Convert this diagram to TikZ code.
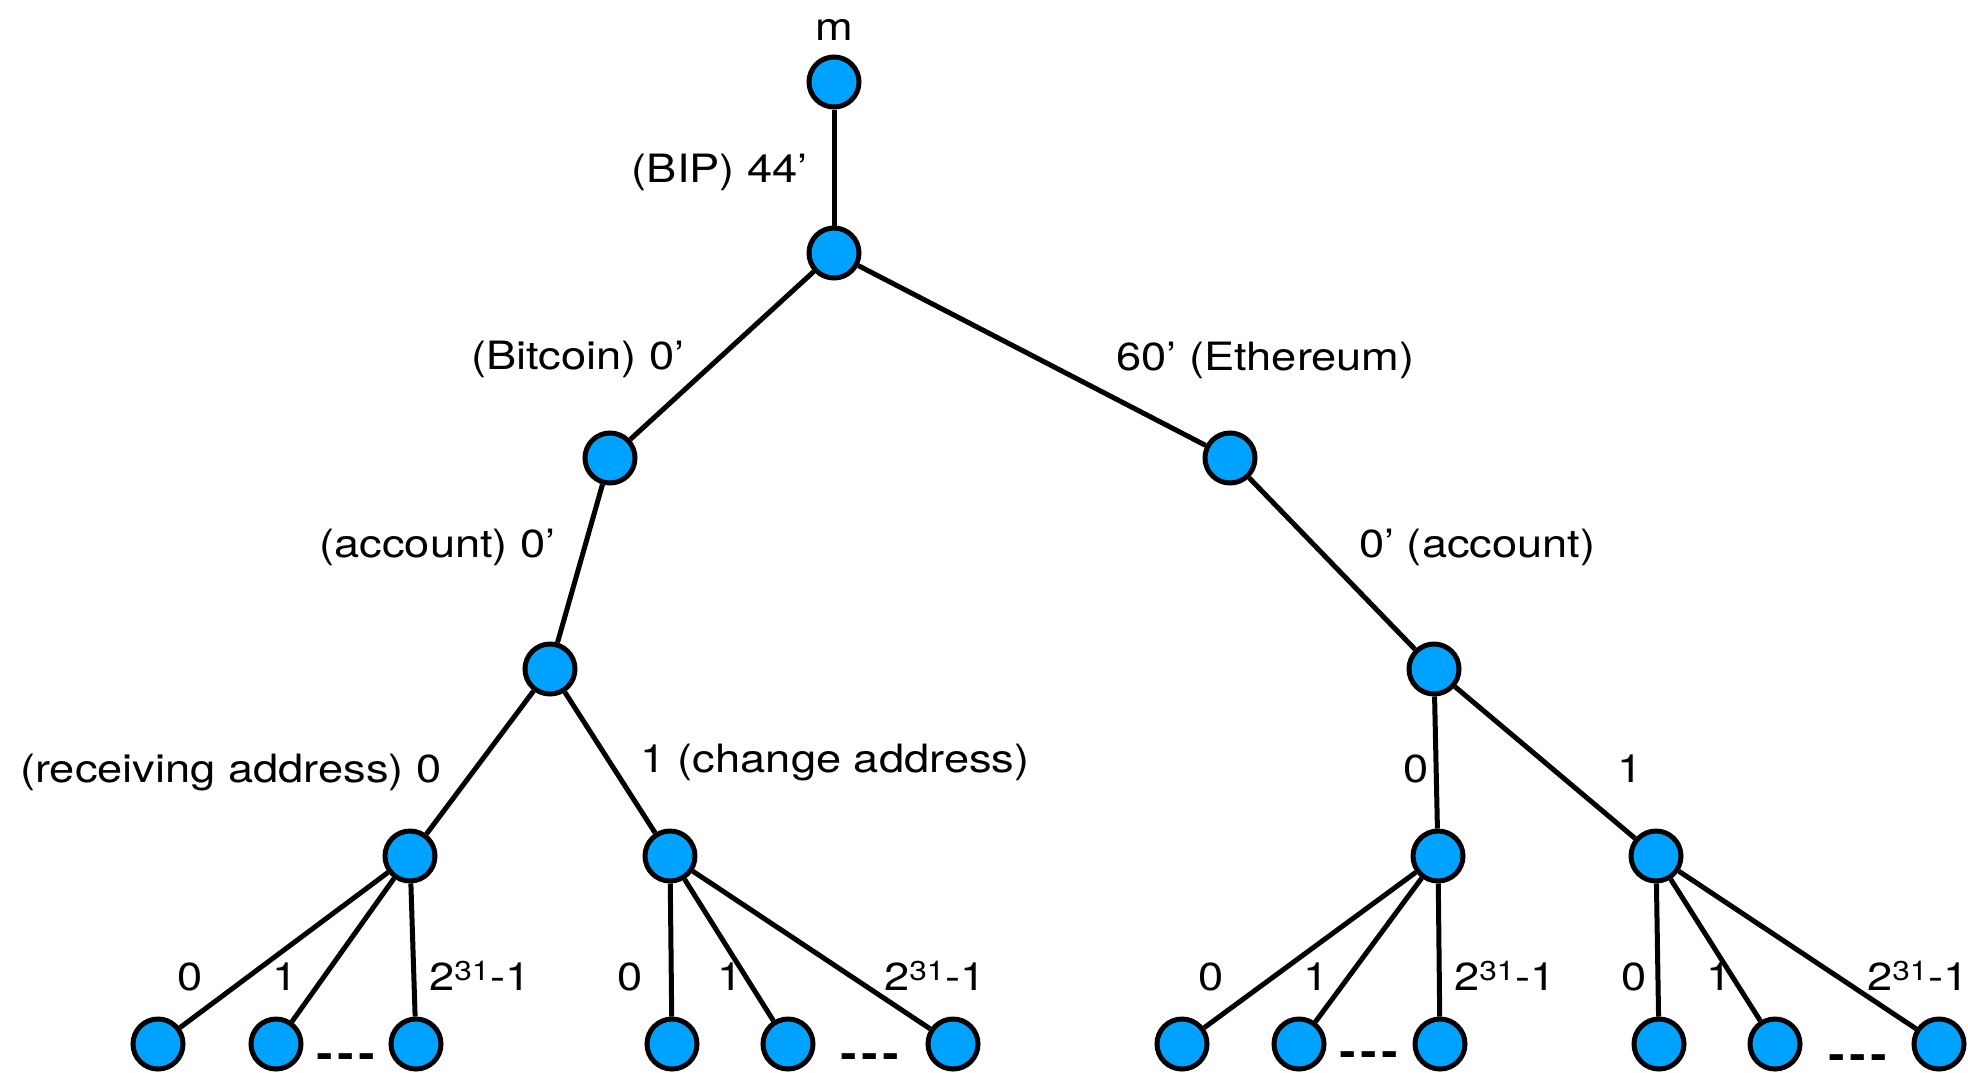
\documentclass[tikz,border=0pt]{standalone}
\usepackage{fontspec}
\setmainfont{TeX Gyre Heros}[FakeStretch=1.16]
\newfontfamily\dotfont{TeX Gyre Heros}[FakeStretch=2.2]
\definecolor{nodeblue}{RGB}{0,162,255}
\begin{document}
\begin{tikzpicture}[x=1pt,y=-1pt,
  key/.style={circle, draw=black, fill=nodeblue, line width=5pt, minimum size=50pt, inner sep=0pt},
  lbl/.style={font=\fontsize{39}{46}\selectfont, inner sep=0pt},
  dotsl/.style={font=\dotfont\fontsize{40}{40}\selectfont\bfseries, inner sep=0pt, anchor=base},
  link/.style={line width=5pt}]
\useasboundingbox (0,0) rectangle (1968,1072);
% main nodes
\node[key] (root) at (834,82) {};
\node[key] (l1) at (834,253) {};
\node[key] (btc) at (610,458) {};
\node[key] (eth) at (1230,458) {};
\node[key] (bacc) at (550,669) {};
\node[key] (eacc) at (1434,669) {};
\node[key] (brecv) at (410,856) {};
\node[key] (bchg) at (670,856) {};
\node[key] (ezero) at (1438,856) {};
\node[key] (eone) at (1656,856) {};
% leaves
\node[key] (bra) at (158,1044) {};
\node[key] (brb) at (276,1044) {};
\node[key] (brc) at (416,1044) {};
\node[key] (bca) at (672,1044) {};
\node[key] (bcb) at (788,1044) {};
\node[key] (bcc) at (953,1044) {};
\node[key] (eza) at (1182,1044) {};
\node[key] (ezb) at (1299,1044) {};
\node[key] (ezc) at (1440,1044) {};
\node[key] (eoa) at (1659,1044) {};
\node[key] (eob) at (1775,1044) {};
\node[key] (eoc) at (1939,1044) {};
% connectors
\draw[link] (root) -- (l1);
\draw[link] (l1) -- (btc);
\draw[link] (l1) -- (eth);
\draw[link] (btc) -- (bacc);
\draw[link] (eth) -- (eacc);
\draw[link] (bacc) -- (brecv);
\draw[link] (bacc) -- (bchg);
\draw[link] (eacc) -- (ezero);
\draw[link] (eacc) -- (eone);
\draw[link] (brecv) -- (bra);
\draw[link] (brecv) -- (brb);
\draw[link] (brecv) -- (brc);
\draw[link] (bchg) -- (bca);
\draw[link] (bchg) -- (bcb);
\draw[link] (bchg) -- (bcc);
\draw[link] (ezero) -- (eza);
\draw[link] (ezero) -- (ezb);
\draw[link] (ezero) -- (ezc);
\draw[link] (eone) -- (eoa);
\draw[link] (eone) -- (eob);
\draw[link] (eone) -- (eoc);
% labels
\node[lbl, anchor=base] (tm) at (834,40) {m};
\node[lbl, anchor=base east] (tbip) at (808,182) {(BIP) 44’};
\node[lbl, anchor=base east] (tbtc) at (685,369) {(Bitcoin) 0’};
\node[lbl, anchor=base west] (teth) at (1116,370) {60’ (Ethereum)};
\node[lbl, anchor=base east] (tbacc) at (556,557) {(account) 0’};
\node[lbl, anchor=base west] (teacc) at (1359,557) {0’ (account)};
\node[lbl, anchor=base west] (trecv) at (20,782) {(receiving address) 0};
\node[lbl, anchor=base west] (tchg) at (640,772) {1 (change address)};
\node[lbl, anchor=base] (tezero) at (1416,782) {0};
\node[lbl, anchor=base] (teone) at (1630,782) {1};
% leaf labels
\node[lbl, anchor=base] (lbra) at (190,990) {0};
\node[lbl, anchor=base] (lbrb) at (285,990) {1};
\node[lbl, anchor=base west] (lbrc) at (429,990) {2\textsuperscript{31}-1};
\node[lbl, anchor=base] (lbca) at (630,990) {0};
\node[lbl, anchor=base] (lbcb) at (730,990) {1};
\node[lbl, anchor=base west] (lbcc) at (884,990) {2\textsuperscript{31}-1};
\node[lbl, anchor=base] (leza) at (1211,990) {0};
\node[lbl, anchor=base] (lezb) at (1316,990) {1};
\node[lbl, anchor=base west] (lezc) at (1454,990) {2\textsuperscript{31}-1};
\node[lbl, anchor=base] (leoa) at (1634,990) {0};
\node[lbl, anchor=base] (leob) at (1719,990) {1};
\node[lbl, anchor=base west] (leoc) at (1867,990) {2\textsuperscript{31}-1};
% ellipses
\node[dotsl] (da) at (346,1059) {.\kern-3.5pt.\kern-3.5pt.};
\node[dotsl] (db) at (870,1059) {.\kern-3.5pt.\kern-3.5pt.};
\node[dotsl] (dc) at (1369,1057) {.\kern-3.5pt.\kern-3.5pt.};
\node[dotsl] (dd) at (1858,1060) {.\kern-3.5pt.\kern-3.5pt.};
\end{tikzpicture}
\end{document}
